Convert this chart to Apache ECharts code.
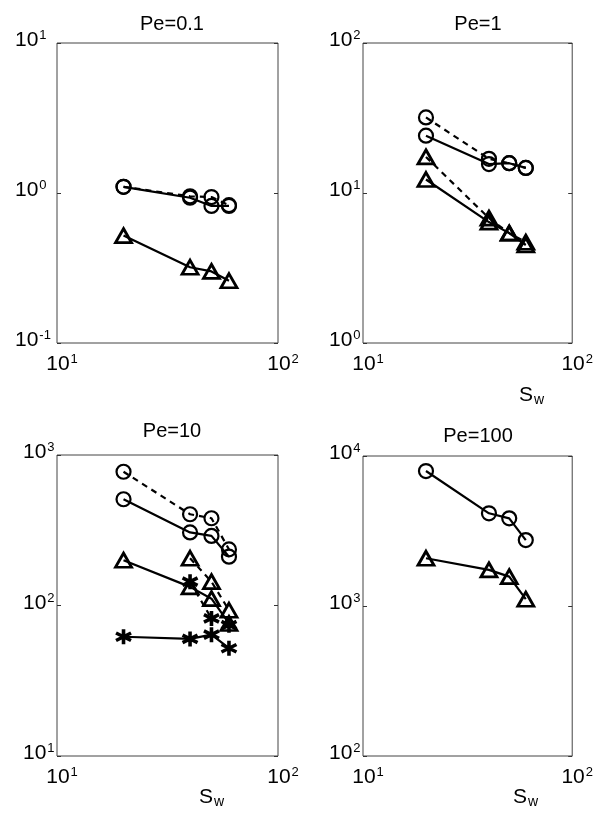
<!DOCTYPE html>
<html>
<head>
<meta charset="utf-8">
<script src="https://cdn.jsdelivr.net/npm/echarts@6/dist/echarts.min.js"></script>
<style>
  html, body { margin: 0; padding: 0; background: #fff; }
  #chart { width: 596px; height: 819px; }
</style>
</head>
<body>
<div id="chart"></div>
<script>
// Wall spacing S_w shared by every panel
const sw = [20, 40, 50, 60];

// Pe = 0.1
const pe01CircleSolid  = [1.10, 0.93, 0.82, 0.82];
const pe01CircleDashed = [1.10, 0.95, 0.94, 0.83];
const pe01TriSolid     = [0.52, 0.32, 0.30, 0.26];

// Pe = 1
const pe1CircleDashed = [31.9, 16.9, 15.8, 14.7];
const pe1CircleSolid  = [24.1, 15.6, 15.8, 14.7];
const pe1TriDashed    = [17.4, 6.8, 5.4, 4.7];
const pe1TriSolid     = [12.3, 6.4, 5.4, 4.5];

// Pe = 10
const pe10CircleDashed = [774, 404, 380, 236];
const pe10CircleSolid  = [508, 306, 290, 211];
const pe10TriDashed    = [null, 206, 144, 93];
const pe10TriSolid     = [200, 133, 111, 76];
const pe10StarDashed   = [null, 144, 82, 74];
const pe10StarSolid    = [62, 60, 64, 52];

// Pe = 100
const pe100CircleSolid = [7940, 4150, 3840, 2750];
const pe100TriSolid    = [2080, 1740, 1570, 1110];

// Panel titles and axis ranges
const panelTitles = ['Pe=0.1', 'Pe=1', 'Pe=10', 'Pe=100'];
const xRange = [10, 100];
const yRanges = [[0.1, 10], [1, 100], [10, 1000], [100, 10000]];

const FONT = 'Liberation Sans, Arial, Helvetica, sans-serif';

const grids = [
  { left: 57,  top: 43,  width: 221, height: 300 },
  { left: 363, top: 43,  width: 220, height: 300 },
  { left: 57,  top: 455, width: 221, height: 301 },
  { left: 363, top: 456, width: 220, height: 300 }
];
const yLabelMargin = [42, 34, 34, 34];

const supRich = {
  b: { fontSize: 21, fontFamily: FONT, color: '#000', lineHeight: 22, verticalAlign: 'bottom' },
  s: { fontSize: 13, fontFamily: FONT, color: '#000', lineHeight: 13, verticalAlign: 'top', padding: [0, 0, 14, 1] }
};
function expLabel(v) {
  const e = Math.round(Math.log10(v));
  return '{b|10}{s|' + e + '}';
}

// Six-armed asterisk drawn as stroked spokes
const STAR = 'path://M0,-6 L0,6 M-5.2,-3 L5.2,3 M-5.2,3 L5.2,-3';

const markers = {
  circle:   { symbol: 'circle',   symbolSize: 14,       borderWidth: 2.2 },
  triangle: { symbol: 'triangle', symbolSize: [16, 14], borderWidth: 2.8 },
  star:     { symbol: STAR,       symbolSize: 15,       borderWidth: 3.6 }
};

function makeSeries(panel, values, marker, dashed) {
  const m = markers[marker];
  const pts = [];
  sw.forEach((x, i) => { if (values[i] != null) pts.push([x, values[i]]); });
  return {
    type: 'line',
    xAxisIndex: panel,
    yAxisIndex: panel * 2,
    data: pts,
    symbol: m.symbol,
    symbolSize: m.symbolSize,
    showSymbol: true,
    animation: false,
    itemStyle: { color: 'rgba(0,0,0,0)', borderColor: '#000', borderWidth: m.borderWidth },
    lineStyle: { color: '#000', width: 2.2, type: dashed ? [6, 5] : 'solid' },
    emphasis: { disabled: true }
  };
}

const series = [
  makeSeries(0, pe01CircleDashed, 'circle', true),
  makeSeries(0, pe01CircleSolid, 'circle', false),
  makeSeries(0, pe01TriSolid, 'triangle', false),

  makeSeries(1, pe1CircleDashed, 'circle', true),
  makeSeries(1, pe1CircleSolid, 'circle', false),
  makeSeries(1, pe1TriDashed, 'triangle', true),
  makeSeries(1, pe1TriSolid, 'triangle', false),

  makeSeries(2, pe10CircleDashed, 'circle', true),
  makeSeries(2, pe10CircleSolid, 'circle', false),
  makeSeries(2, pe10TriDashed, 'triangle', true),
  makeSeries(2, pe10TriSolid, 'triangle', false),
  makeSeries(2, pe10StarDashed, 'star', true),
  makeSeries(2, pe10StarSolid, 'star', false),

  makeSeries(3, pe100CircleSolid, 'circle', false),
  makeSeries(3, pe100TriSolid, 'triangle', false)
];

const xAxes = grids.map((g, i) => ({
  type: 'log', logBase: 10, gridIndex: i,
  min: xRange[0], max: xRange[1],
  axisLine: { show: false },
  axisTick: { show: false },
  splitLine: { show: false },
  minorTick: { show: false },
  axisLabel: { formatter: expLabel, rich: supRich, margin: 10, padding: [0, 0, 0, 10] }
}));

const yAxes = [];
grids.forEach((g, i) => {
  yAxes.push({
    type: 'log', logBase: 10, gridIndex: i,
    min: yRanges[i][0], max: yRanges[i][1],
    axisLine: { show: false },
    axisTick: { show: true, inside: true, length: 4, lineStyle: { color: '#333' } },
    splitLine: { show: false },
    minorTick: { show: false },
    axisLabel: { formatter: expLabel, rich: supRich, align: 'left', margin: yLabelMargin[i], padding: [0, 0, 6, 0] }
  });
  yAxes.push({
    type: 'log', logBase: 10, gridIndex: i, position: 'right',
    min: yRanges[i][0], max: yRanges[i][1],
    axisLine: { show: false },
    axisTick: { show: true, inside: true, length: 4, lineStyle: { color: '#333' } },
    splitLine: { show: false },
    axisLabel: { show: false }
  });
});

const titleStyle = { fontFamily: FONT, fontSize: 20, fontWeight: 'normal', color: '#000' };
const swRich = {
  S: { fontFamily: FONT, fontSize: 21, fontWeight: 'normal', color: '#000', lineHeight: 22, verticalAlign: 'top' },
  w: { fontFamily: FONT, fontSize: 14, fontWeight: 'normal', color: '#000', lineHeight: 14, verticalAlign: 'bottom', padding: [12, 0, 0, 1] }
};

const titles = [
  { text: panelTitles[0], left: 167, top: 9, textAlign: 'center', textStyle: titleStyle },
  { text: panelTitles[1], left: 473, top: 9, textAlign: 'center', textStyle: titleStyle },
  { text: panelTitles[2], left: 167, top: 416, textAlign: 'center', textStyle: titleStyle },
  { text: panelTitles[3], left: 473, top: 421, textAlign: 'center', textStyle: titleStyle },
  { text: '{S|S}{w|w}', left: 519, top: 385, padding: 0, textStyle: { fontWeight: 'normal', rich: swRich } },
  { text: '{S|S}{w|w}', left: 199, top: 787, padding: 0, textStyle: { fontWeight: 'normal', rich: swRich } },
  { text: '{S|S}{w|w}', left: 513, top: 787, padding: 0, textStyle: { fontWeight: 'normal', rich: swRich } }
];

const chart = echarts.init(document.getElementById('chart'), null, { renderer: 'canvas' });
chart.setOption({
  backgroundColor: '#fff',
  animation: false,
  title: titles,
  grid: grids.map(g => Object.assign({ show: true, borderColor: '#444', borderWidth: 1, backgroundColor: '#fff' }, g)),
  xAxis: xAxes,
  yAxis: yAxes,
  series: series
});
</script>
</body>
</html>
